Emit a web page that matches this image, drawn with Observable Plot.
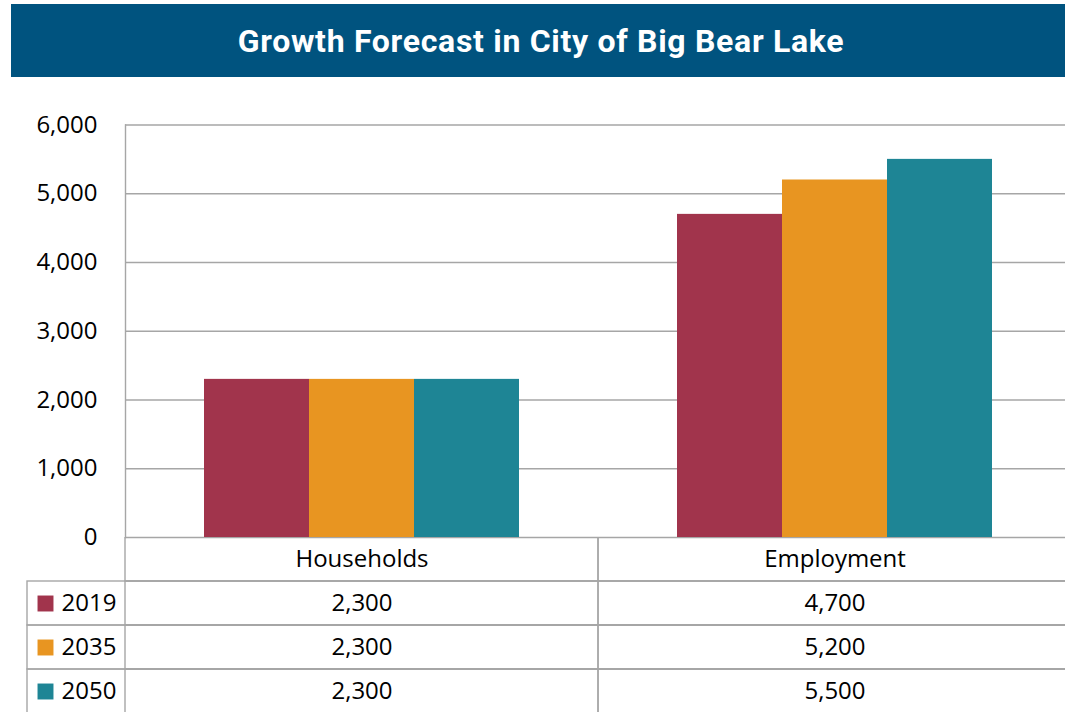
<!DOCTYPE html>
<html><head><meta charset="utf-8">
<script src="https://cdn.jsdelivr.net/npm/d3@7"></script>
<script src="https://cdn.jsdelivr.net/npm/@observablehq/plot@0.6"></script>
<style>
html,body{margin:0;padding:0;background:#fff;overflow:hidden;}
#wrap{position:relative;width:1065px;height:712px;overflow:hidden;}
#title{position:absolute;left:11px;top:4px;width:1060px;height:73px;background:#00537F;color:#fff;
  font:bold 32px Roboto,"DejaVu Sans Condensed",sans-serif;letter-spacing:0.7px;
  display:flex;align-items:center;justify-content:center;padding-top:1px;box-sizing:border-box;}
#table,#chart{position:absolute;left:0;width:1075px;}
#chart{top:77px;}
#table{top:537px;}
#wrap svg{max-width:none !important;}
</style></head>
<body><div id="wrap"><div id="title">Growth Forecast in City of Big Bear Lake</div><div id="table"></div><div id="chart"></div></div>
<script>
const categories = ["Households", "Employment"];
const years = ["2019", "2035", "2050"];
const householdValues = [2300, 2300, 2300];
const employmentValues = [4700, 5200, 5500];
const yTicks = [0, 1000, 2000, 3000, 4000, 5000, 6000];
const colors = ["#A1344C", "#E89521", "#1E8595"];
const headerKey = "header";

const seriesByCategory = {Households: householdValues, Employment: employmentValues};
const rows = categories.flatMap(c => years.map((y, i) => ({category: c, year: y, value: seriesByCategory[c][i]})));
const fmt = d3.format(",");
const gridColor = "#a6a6a6";
const font = "'Open Sans', 'Noto Sans', sans-serif";

const chart = Plot.plot({
  width: 1075, height: 480,
  marginTop: 47.5, marginBottom: 20, marginLeft: 125, marginRight: 4,
  style: {background: "transparent", fontFamily: font, fontSize: "24px", color: "#000", overflow: "visible", maxWidth: "none"},
  fx: {domain: categories, padding: 0, axis: null},
  x: {domain: years, paddingInner: 0, paddingOuter: 0.75, axis: null},
  y: {domain: [0, 6000], ticks: yTicks, tickSize: 0, tickPadding: 28, tickFormat: fmt, label: null},
  color: {domain: years, range: colors},
  marks: [
    Plot.ruleY(yTicks, {stroke: gridColor, strokeWidth: 1.4}),
    Plot.barY(rows, {fx: "category", x: "year", y: "value", fill: "year"}),
    Plot.frame({anchor: "left", facetAnchor: "left", stroke: gridColor, strokeWidth: 1.4})
  ]
});
document.getElementById("chart").appendChild(chart);

const rowKeys = [headerKey, ...years];
const gridCells = categories.flatMap(c => rowKeys.map(r => ({category: c, row: r})));
const table = Plot.plot({
  width: 1075, height: 177,
  marginTop: 0, marginBottom: 1, marginLeft: 27, marginRight: 2,
  style: {background: "transparent", fontFamily: font, fontSize: "24px", color: "#000", maxWidth: "none"},
  x: {domain: categories, range: [125, 1071], padding: 0, axis: null},
  y: {domain: rowKeys, padding: 0, axis: null},
  color: {domain: years, range: colors},
  marks: [
    Plot.cell(years, {y: d => d, stroke: gridColor, fill: "none", strokeWidth: 1.4, inset: 0}),
    Plot.cell(gridCells, {x: "category", y: "row", stroke: gridColor, fill: "none", strokeWidth: 1.4, inset: 0}),
    Plot.dot(years, {y: d => d, frameAnchor: "left", dx: 18, symbol: "square", r: 9, fill: d => d, stroke: null}),
    Plot.text(years, {y: d => d, frameAnchor: "left", dx: 34, textAnchor: "start", text: d => d, fontSize: 24, fill: "#000"}),
    Plot.text(categories, {x: d => d, y: () => headerKey, text: d => d, fontSize: 24, fill: "#000"}),
    Plot.text(rows, {x: "category", y: "year", text: d => fmt(d.value), fontSize: 24, fill: "#000"})
  ]
});
document.getElementById("table").appendChild(table);
</script>
</body></html>
